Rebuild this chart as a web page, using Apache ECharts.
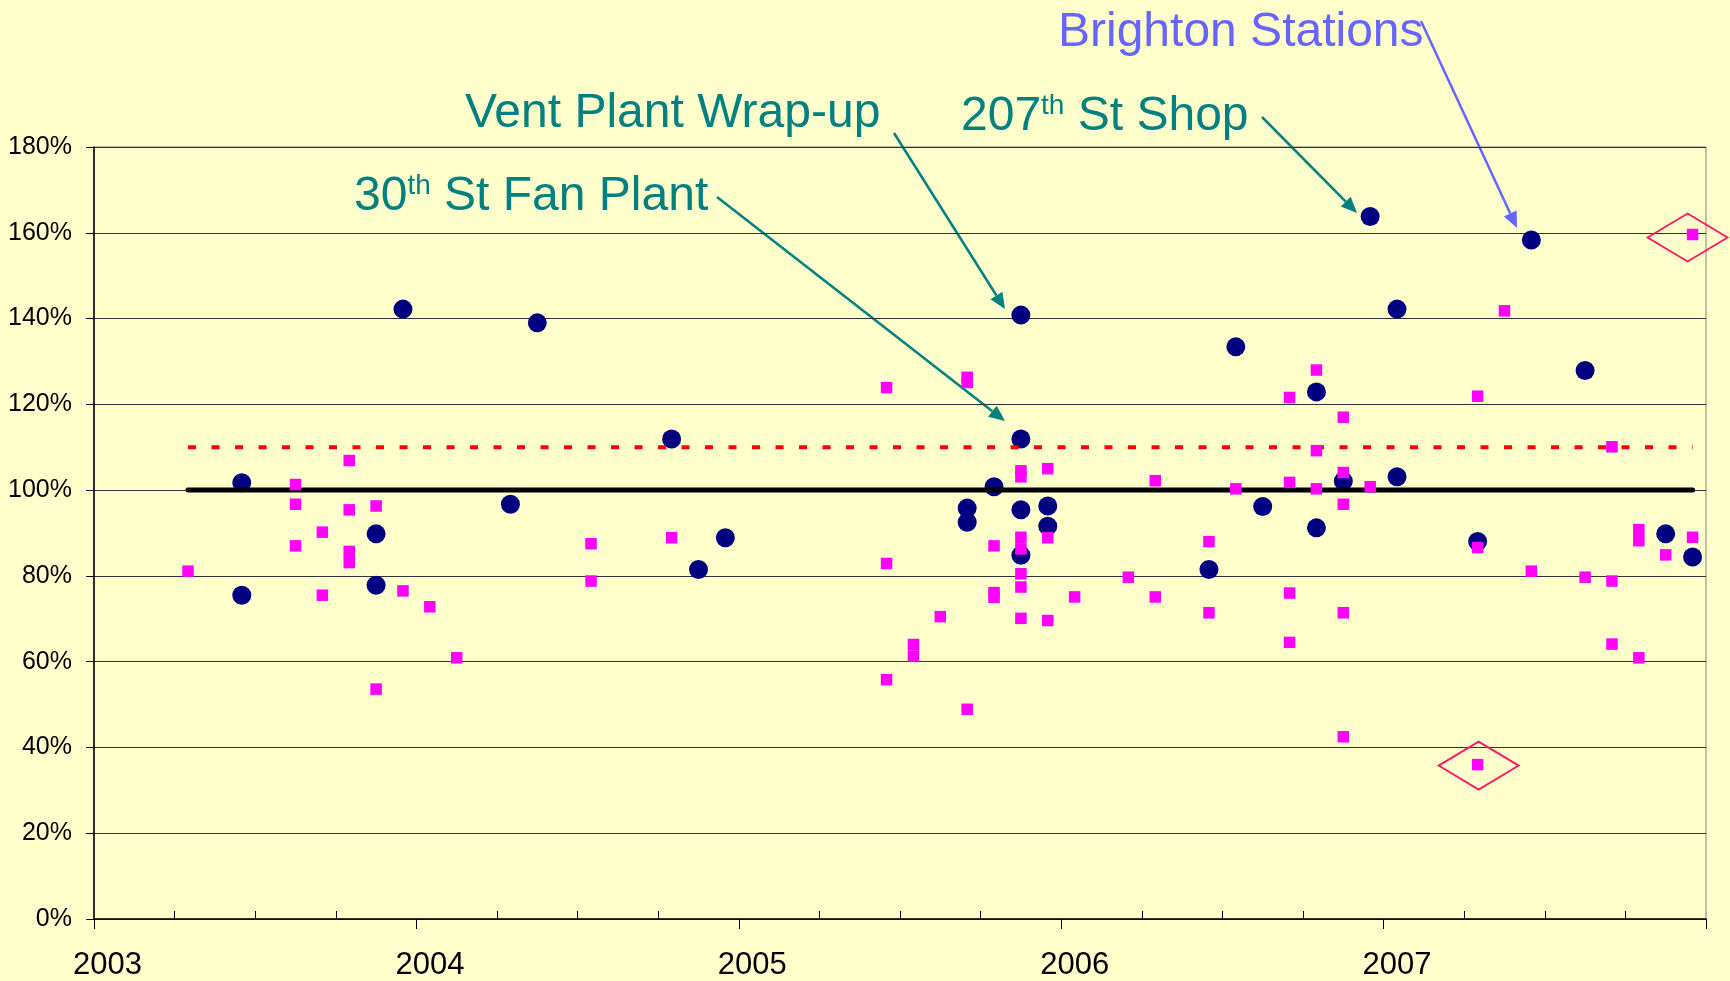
<!DOCTYPE html>
<html>
<head>
<meta charset="utf-8">
<script src="https://cdn.jsdelivr.net/npm/echarts@6/dist/echarts.min.js"></script>
<style>
  html, body { margin: 0; padding: 0; background: #FFFFCC; }
  #chart { width: 1730px; height: 981px; }
</style>
</head>
<body>
<div id="chart"></div>
<script>
// year ticks / labels on the date axis
var yearTicks = [2003, 2004, 2005, 2006, 2007, 2008];
var yearLabels = [2003, 2004, 2005, 2006, 2007];
var quarterTicks = [2003.25, 2003.5, 2003.75, 2004.25, 2004.5, 2004.75, 2005.25, 2005.5, 2005.75,
                    2006.25, 2006.5, 2006.75, 2007.25, 2007.5, 2007.75];

// navy circles  [month, %]
var circlePoints = [
  ['2003-06', 101.7], ['2003-06', 75.5], ['2003-11', 89.8], ['2003-11', 77.8], ['2003-12', 142.2],
  ['2004-04', 96.7], ['2004-05', 139.0], ['2004-10', 111.9], ['2004-11', 81.5], ['2004-12', 88.9],
  ['2005-09', 95.8], ['2005-09', 92.5], ['2005-10', 100.8], ['2005-11', 140.8], ['2005-11', 111.9],
  ['2005-11', 95.4], ['2005-11', 84.8], ['2005-12', 96.3], ['2005-12', 91.6],
  ['2006-06', 81.5], ['2006-07', 133.4], ['2006-08', 96.2], ['2006-10', 122.9], ['2006-10', 91.2],
  ['2006-11', 102.1], ['2006-12', 163.8], ['2007-01', 142.2], ['2007-01', 103.1], ['2007-04', 88.0],
  ['2007-06', 158.3], ['2007-08', 127.9], ['2007-11', 89.8], ['2007-12', 84.4]
];

// magenta squares  [month, %]
var squarePoints = [
  ['2003-04', 81.1], ['2003-08', 101.3], ['2003-08', 96.7], ['2003-08', 87.0], ['2003-09', 90.2],
  ['2003-09', 75.5], ['2003-10', 106.9], ['2003-10', 95.4], ['2003-10', 85.7], ['2003-10', 83.1],
  ['2003-11', 96.3], ['2003-11', 53.6], ['2003-12', 76.5], ['2004-01', 72.8], ['2004-02', 60.9],
  ['2004-07', 87.5], ['2004-07', 78.8], ['2004-10', 88.9],
  ['2005-06', 123.9], ['2005-06', 82.9], ['2005-06', 55.8], ['2005-07', 64.0], ['2005-07', 61.3],
  ['2005-08', 70.5], ['2005-09', 126.3], ['2005-09', 125.1], ['2005-09', 48.9], ['2005-10', 87.0],
  ['2005-10', 76.1], ['2005-10', 75.0], ['2005-11', 104.5], ['2005-11', 103.1], ['2005-11', 89.0],
  ['2005-11', 86.3], ['2005-11', 80.5], ['2005-11', 77.4], ['2005-11', 70.1], ['2005-12', 105.0],
  ['2005-12', 88.9], ['2005-12', 69.6],
  ['2006-01', 75.1], ['2006-03', 79.7], ['2006-04', 102.2], ['2006-04', 75.1], ['2006-06', 88.0],
  ['2006-06', 71.4], ['2006-07', 100.3], ['2006-09', 121.6], ['2006-09', 101.8], ['2006-09', 76.0],
  ['2006-09', 64.5], ['2006-10', 128.0], ['2006-10', 109.2], ['2006-10', 100.3], ['2006-11', 117.0],
  ['2006-11', 104.1], ['2006-11', 96.7], ['2006-11', 71.4], ['2006-11', 42.5], ['2006-12', 100.8],
  ['2007-04', 121.9], ['2007-04', 86.6], ['2007-04', 36.0], ['2007-05', 141.8], ['2007-06', 81.1],
  ['2007-08', 79.7], ['2007-09', 110.1], ['2007-09', 78.8], ['2007-09', 64.1], ['2007-10', 90.8],
  ['2007-10', 88.2], ['2007-10', 60.9], ['2007-11', 84.9], ['2007-12', 159.6], ['2007-12', 89.0]
];

// outliers circled with a diamond
var flaggedPoints = [['2007-04', 36.0], ['2007-12', 159.6]];

// reference lines
var targetLine = [['2003-04', 100], ['2007-12', 100]];
var limitLine = [['2003-04', 110], ['2007-12', 110]];

// month 'YYYY-MM' -> decimal year, plotted mid-month
function monthToX(m) {
  var p = m.split('-');
  return +p[0] + (+p[1] - 0.5) / 12;
}
function toXY(list) {
  return list.map(function (p) { return [monthToX(p[0]), p[1]]; });
}

var FONT = '"Liberation Sans", Arial, sans-serif';
var TEAL = '#008080';
var BLUE = '#6666FF';

function arrow(x1, y1, x2, y2, color) {
  var dx = x2 - x1, dy = y2 - y1;
  var len = Math.sqrt(dx * dx + dy * dy);
  var ux = dx / len, uy = dy / len;
  var hl = 16, hw = 7;
  var bx = x2 - ux * hl, by = y2 - uy * hl;
  return [
    { type: 'line', shape: { x1: x1, y1: y1, x2: bx, y2: by }, style: { stroke: color, lineWidth: 2.5 } },
    { type: 'polygon', shape: { points: [[x2, y2], [bx - uy * hw, by + ux * hw], [bx + uy * hw, by - ux * hw]] },
      style: { fill: color } }
  ];
}

function label(x, y, text, color) {
  return {
    type: 'text', x: x, y: y,
    style: {
      text: text, fill: color, fontSize: 48, fontFamily: FONT, lineHeight: 48,
      align: 'left', verticalAlign: 'middle',
      rich: { sup: { fontSize: 28, fontFamily: FONT, lineHeight: 38, verticalAlign: 'top', fill: color } }
    }
  };
}

var annotations = [].concat(
  label(465, 113.5, 'Vent Plant Wrap-up', TEAL),
  label(354, 196.5, '30{sup|th} St Fan Plant', TEAL),
  label(961, 116.5, '207{sup|th} St Shop', TEAL),
  label(1058, 32.5, 'Brighton Stations', BLUE),
  arrow(894, 133, 1005, 309, TEAL),
  arrow(717, 197, 1005, 421, TEAL),
  arrow(1262, 117, 1357, 213, TEAL),
  arrow(1421, 21, 1517, 228, BLUE)
);

var flaggedData = toXY(flaggedPoints).map(function (v, i) {
  return { value: v, symbolOffset: i === 0 ? [1, 1] : [-5, 3] };
});

var chart = echarts.init(document.getElementById('chart'));
chart.setOption({
  backgroundColor: '#FFFFCC',
  animation: false,
  grid: { left: 94, right: 24, top: 147, bottom: 62, show: true, borderColor: '#808080', borderWidth: 1,
          backgroundColor: 'transparent' },
  xAxis: [
    {
      type: 'value', min: 2003, max: 2008, interval: 1, position: 'bottom',
      axisLine: { onZero: false, lineStyle: { color: '#000', width: 1.5 } },
      axisTick: { show: true, length: 10, lineStyle: { color: '#000', width: 1 } },
      axisLabel: {
        customValues: yearLabels, margin: 31, padding: [0, 0, 0, 27],
        color: '#000', fontSize: 31, fontFamily: FONT,
        formatter: function (v) { return String(Math.round(v)); }
      },
      splitLine: { show: false }
    },
    {
      type: 'value', min: 2003, max: 2008, position: 'bottom',
      axisLine: { show: false, onZero: false },
      axisTick: { show: true, inside: true, length: 8, customValues: quarterTicks,
                  lineStyle: { color: '#000', width: 1 } },
      axisLabel: { show: false },
      splitLine: { show: false }
    }
  ],
  yAxis: {
    type: 'value', min: 0, max: 180, interval: 20,
    axisLine: { show: true, lineStyle: { color: '#000', width: 1.5 } },
    axisTick: { show: true, length: 8, lineStyle: { color: '#000' } },
    axisLabel: { margin: 22, color: '#000', fontSize: 25, fontFamily: FONT, formatter: '{value}%' },
    splitLine: { show: true, lineStyle: { color: '#333', width: 1 } }
  },
  series: [
    {
      name: 'circles', type: 'scatter', data: toXY(circlePoints),
      symbol: 'circle', symbolSize: 19, itemStyle: { color: '#000080', opacity: 1 }, z: 2
    },
    {
      name: 'target', type: 'line', data: toXY(targetLine), symbol: 'none',
      lineStyle: { color: '#000', width: 5, cap: 'round' }, z: 3
    },
    {
      name: 'limit', type: 'line', data: toXY(limitLine), symbol: 'none',
      lineStyle: { color: '#FF0000', width: 4, type: [8, 15.5] }, z: 3
    },
    {
      name: 'squares', type: 'scatter', data: toXY(squarePoints),
      symbol: 'rect', symbolSize: 11.5, itemStyle: { color: '#FF00FF', opacity: 1 }, z: 4
    },
    {
      name: 'flagged', type: 'scatter', data: flaggedData, clip: false, silent: true,
      symbol: 'diamond', symbolSize: [80, 48],
      itemStyle: { color: 'rgba(0,0,0,0)', borderColor: '#FF1A66', borderWidth: 2, opacity: 1 }, z: 5
    }
  ],
  graphic: { elements: annotations }
});
</script>
</body>
</html>
